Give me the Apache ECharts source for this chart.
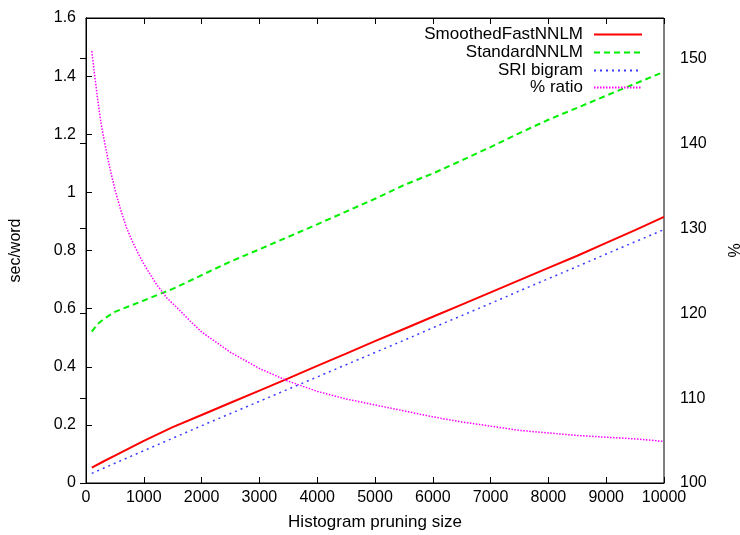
<!DOCTYPE html>
<html>
<head>
<meta charset="utf-8">
<script src="https://cdn.jsdelivr.net/npm/echarts@6/dist/echarts.min.js"></script>
<style>
  html, body { margin: 0; padding: 0; background: #fff; }
  #chart { width: 740px; height: 535px; }
</style>
</head>
<body>
<div id="chart"></div>
<script>
// values
const smoothX = [100, 300, 500, 1000, 1500, 2000, 2500, 3000, 3500, 4000, 4500, 5000, 5500, 6000, 6500, 7000, 7500, 8000, 8500, 9000, 9500, 10000];
const smoothY = [0.053, 0.074, 0.094, 0.145, 0.192, 0.234, 0.276, 0.318, 0.36, 0.403, 0.445, 0.488, 0.53, 0.572, 0.614, 0.656, 0.698, 0.740, 0.782, 0.826, 0.870, 0.916];

const standardX = [100, 200, 300, 500, 1000, 1500, 2000, 2500, 3000, 3500, 4000, 4500, 5000, 5500, 6000, 6500, 7000, 7500, 8000, 8500, 9000, 9500, 10000];
const standardY = [0.521, 0.547, 0.563, 0.589, 0.628, 0.668, 0.715, 0.762, 0.804, 0.847, 0.89, 0.934, 0.978, 1.025, 1.065, 1.11, 1.156, 1.204, 1.25, 1.291, 1.333, 1.374, 1.415];

const sriX = [100, 500, 1000, 1500, 2000, 2500, 3000, 3500, 4000, 4500, 5000, 5500, 6000, 6500, 7000, 7500, 8000, 8500, 9000, 9500, 10000];
const sriY = [0.033, 0.068, 0.111, 0.154, 0.197, 0.239, 0.281, 0.323, 0.365, 0.407, 0.449, 0.491, 0.534, 0.576, 0.618, 0.661, 0.703, 0.745, 0.788, 0.830, 0.872];

const ratioX = [100, 150, 200, 250, 300, 350, 400, 500, 600, 700, 800, 900, 1000, 1200, 1400, 1600, 1800, 2000, 2500, 3000, 3500, 4000, 4500, 5000, 5500, 6000, 6500, 7000, 7500, 8000, 8500, 9000, 9500, 10000];
const ratioY = [150.9, 148.0, 145.3, 142.8, 140.9, 139.2, 137.5, 134.6, 132.2, 130.1, 128.5, 127.1, 125.8, 123.6, 121.8, 120.5, 119.1, 117.8, 115.4, 113.5, 112.0, 110.8, 109.9, 109.2, 108.5, 107.8, 107.2, 106.7, 106.2, 105.9, 105.6, 105.4, 105.2, 104.9];

const names = ["SmoothedFastNNLM", "StandardNNLM", "SRI bigram", "% ratio"];

function pairs(xs, ys) {
  return xs.map((x, i) => [x, ys[i]]);
}

const font = "'Liberation Sans', Arial, sans-serif";

const chart = echarts.init(document.getElementById("chart"), null, { renderer: "canvas" });

// one legend per row so the texts line up on the right like gnuplot's key
const legendTops = [26, 44, 62, 79];
const legends = names.map((n, i) => ({
  data: [n],
  right: 97,
  top: legendTops[i],
  align: "right",
  padding: 0,
  itemWidth: 48,
  itemHeight: 12,
  selectedMode: false,
  itemStyle: { color: "transparent", borderColor: "transparent", borderWidth: 0 },
  textStyle: { fontFamily: font, fontSize: 17, color: "#000", padding: [0, 6, 0, 0] }
}));

const option = {
  animation: false,
  backgroundColor: "#fff",
  grid: {
    left: 86, right: 76, top: 18, bottom: 52,
    outerBoundsMode: "none",
    containLabel: false,
    show: true, borderColor: "#000", borderWidth: 1
  },
  legend: legends,
  xAxis: [
    {
      type: "value",
      min: 0, max: 10000, interval: 1000,
      name: "Histogram pruning size",
      nameLocation: "middle",
      nameGap: 31,
      nameTextStyle: { fontFamily: font, fontSize: 17, color: "#000" },
      axisLine: { lineStyle: { color: "#000", width: 1 } },
      axisTick: { inside: true, length: 6, lineStyle: { color: "#000" } },
      axisLabel: { fontFamily: font, fontSize: 16, color: "#000", margin: 7, formatter: v => String(v) },
      splitLine: { show: false }
    },
    {
      type: "value",
      position: "top",
      min: 0, max: 10000, interval: 1000,
      axisLine: { lineStyle: { color: "#000", width: 1 } },
      axisTick: { inside: true, length: 6, lineStyle: { color: "#000" } },
      axisLabel: { show: false },
      splitLine: { show: false }
    }
  ],
  yAxis: [
    {
      type: "value",
      min: 0, max: 1.6, interval: 0.2,
      name: "sec/word",
      nameLocation: "middle",
      nameGap: 62,
      nameTextStyle: { fontFamily: font, fontSize: 16, color: "#000" },
      axisLine: { show: true, lineStyle: { color: "#000", width: 1 } },
      axisTick: { show: true, inside: true, length: 6, lineStyle: { color: "#000" } },
      axisLabel: { fontFamily: font, fontSize: 16, color: "#000", margin: 10 },
      splitLine: { show: false }
    },
    {
      type: "value",
      position: "right",
      min: 100, max: 154.8, interval: 10,
      name: "%",
      nameLocation: "middle",
      nameGap: 64,
      nameRotate: 90,
      nameTextStyle: { fontFamily: font, fontSize: 16, color: "#000" },
      axisLine: { show: true, lineStyle: { color: "#000", width: 1 } },
      axisTick: { show: true, inside: true, length: 6, lineStyle: { color: "#000" } },
      axisLabel: { fontFamily: font, fontSize: 16, color: "#000", margin: 16, showMaxLabel: false },
      splitLine: { show: false }
    }
  ],
  series: [
    {
      name: names[0],
      type: "line",
      data: pairs(smoothX, smoothY),
      symbol: "none",
      color: "#ff0000",
      lineStyle: { color: "#ff0000", width: 2, type: "solid" }
    },
    {
      name: names[1],
      type: "line",
      data: pairs(standardX, standardY),
      symbol: "none",
      color: "#00f000",
      lineStyle: { color: "#00f000", width: 2, type: [6, 4] }
    },
    {
      name: names[2],
      type: "line",
      data: pairs(sriX, sriY),
      symbol: "none",
      color: "#3a3aff",
      lineStyle: { color: "#3a3aff", width: 1.5, type: [2, 4] }
    },
    {
      name: names[3],
      type: "line",
      yAxisIndex: 1,
      data: pairs(ratioX, ratioY),
      symbol: "none",
      color: "#ff00ff",
      lineStyle: { color: "#ff00ff", width: 1.5, type: [1.5, 1.5] }
    }
  ]
};

chart.setOption(option);
</script>
</body>
</html>
